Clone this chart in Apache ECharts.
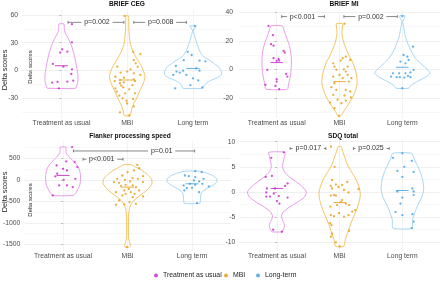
<!DOCTYPE html>
<html>
<head>
<meta charset="utf-8">
<script src="https://cdn.jsdelivr.net/npm/echarts@6/dist/echarts.min.js"></script>
<style>
  html, body { margin: 0; padding: 0; background: #fff; }
  #chart { width: 440px; height: 281px; }
</style>
</head>
<body>
<div id="chart"></div>
<script>
// categories and labels
const groups = ['Treatment as usual', 'MBI', 'Long term'];
const legendNames = ['Treatment as usual', 'MBI', 'Long-term'];
const panelTitles = ['BRIEF CEG', 'BRIEF MI', 'Flanker processing speed', 'SDQ total'];
const yTicks = [[-30, 0, 30, 60], [-20, 0, 20, 40], [-1500, -1000, -500, 0, 500], [-10, -5, 0, 5, 10]];
const yMinor = [[-45, -15, 15, 45], [-30, -10, 10, 30], [-1250, -750, -250, 250, 750], [-7.5, -2.5, 2.5, 7.5]];

// BRIEF CEG delta scores (points) and horizontal jitter
const cegTau = [50, 30.4, 22.8, 20.2, 19.2, 6.9, 4, 1.1, -4, -13.4, -12.6, -12.3, -11.2, -19.5];
const cegTauJit = [0.16, 0.16, 0.01, 0.09, -0.02, -0.13, 0.03, 0.16, 0.15, -0.14, -0.06, 0.09, 0.18, -0.04];
const cegMbi = [59, 20, 17.7, 11, 7.6, 4, 4, 1, -1.4, -2.5, -3.3, -7, -5, -8, -10.5, -9.8, -11.7, -13, -14, -11.6,
  -16.7, -16, -18.4, -19.5, -20.6, -23.2, -25, -25, -27.5, -30.4, -33, -31, -36, -39, -45.6, -49];
const cegMbiJit = [-0.04, 0.09, 0.2, 0.1, 0.13, 0.16, -0.15, 0.05, 0, -0.1, 0.1, -0.18, 0.2, -0.05, -0.11, 0.1, -0.19, -0.05, -0.11, 0.12,
  -0.09, 0.08, -0.06, -0.18, 0.03, -0.16, -0.03, 0.12, -0.12, -0.07, -0.01, 0.09, 0, 0.1, -0.11, 0.03];
const cegLt = [48, 20, 16.6, 11, 10.5, 9.8, 4.7, 2, -0.4, -1.4, -2.5, -0.4, -5, -5, -8.7, -11, -16, -19.5, -18.4];
const cegLtJit = [0.03, -0.08, -0.02, -0.14, 0.1, 0.19, -0.26, 0.05, -0.15, -0.25, -0.2, 0.1, -0.3, -0.1, 0, 0.08, -0.04, -0.27, 0.14];

// BRIEF MI
const miTau = [30.5, 24, 17.7, 16.7, 13, 11.9, 7.9, 7.4, 6.3, 6, -0.2, -3, -4.9, -6.7, -10.7, -8.4, -11.4, -13.7];
const miTauJit = [-0.13, -0.06, -0.09, -0.05, 0.11, 0.13, -0.05, 0.03, 0.04, 0, -0.15, 0.15, 0.17, 0, -0.18, 0, -0.02, 0.04];
const miMbi = [32, 9, 7.9, 6.3, 6.7, 4.4, 2, 2, 0.2, -0.2, -1.4, -3.7, -3.7, -4.9, -6, -6, -8.4, -9.5, -12.3, -14.2,
  -14.2, -15.3, -17.7, -18.1, -19.5, -21, -21.6, -23, -23.5, -27, -32.3];
const miMbiJit = [0.08, 0.1, 0.05, 0.02, 0.17, -0.1, -0.08, 0.13, 0.07, -0.05, 0.1, 0, 0.13, -0.1, 0.05, 0.19, 0.15, -0.08, -0.13, -0.05,
  0.1, 0.17, -0.1, 0.08, 0.18, -0.03, 0.1, -0.15, 0.03, -0.08, -0.01];
const miLt = [37.3, 16, 10.2, 9, 6.7, 5.6, 4.4, -2.6, -2.6, -2.6, -2, -0.2, -4.4, -5.3, -5.6, -4.9, -5.3, -5.3, -13];
const miLtJit = [0, 0.17, 0.02, 0.08, 0.1, -0.03, 0.05, -0.15, -0.05, 0.05, 0.13, 0.18, 0.09, -0.04, 0.03, -0.18, -0.09, 0.13, 0];

// Flanker processing speed
const flkTau = [760, 426, 411, 333, 295, 256, 217, 140, 78, 0, 23, -132, -132, -170, -364];
const flkTauJit = [0.14, 0.05, 0.18, -0.1, 0.22, 0, 0.06, -0.09, -0.12, 0.01, 0.19, -0.06, 0.06, 0.15, -0.16];
const flkMbi = [345, 270, 217, 178, 100, 85, 39, 23, 0, 23, -39, -54, -70, -54, -116, -132, -147, -170, -209, -248,
  -248, -287, -287, -326, -326, -364, -388, -403, -481, -519, -558, -574, -581, -1566];
const flkMbiJit = [0.15, 0.18, 0.1, 0, -0.08, 0.24, 0.08, -0.16, -0.04, 0.16, 0.04, -0.21, -0.13, 0.24, -0.03, 0.08, -0.1, 0.13, 0.02, -0.05,
  0.18, 0.05, -0.18, -0.03, 0.11, -0.08, 0.24, 0.08, -0.13, 0.03, 0.13, -0.05, -0.18, -0.01];
const flkLt = [200, 178, 100, 85, 62, 23, -15, -39, -93, -93, -132, -116, -155, -194, -186, -248, -287, -545];
const flkLtJit = [0.05, 0.15, -0.11, -0.05, 0.05, 0.18, 0.03, 0.11, -0.03, 0.16, -0.13, 0.05, 0.26, -0.08, 0, -0.12, 0.11, 0.08];

// SDQ total
const sdqTau = [7.9, 6.8, 3, 3.2, 1.7, 1.2, 0.7, 0.7, -0.1, -0.3, -0.9, -0.8, -0.9, -1.1, -1.8, -2.3, -7.5, -7.9];
const sdqTauJit = [0.11, -0.09, -0.18, -0.08, 0.17, 0.13, -0.16, -0.03, -0.17, -0.05, -0.11, 0.03, -0.17, 0.17, 0, 0.04, -0.06, 0.08];
const sdqMbi = [9, 5, 2.4, 2, 1.5, 1.4, 1.2, 1, 0.7, 0.6, 0.4, -0.1, -0.6, -0.7, -0.7, -1.6, -2, -2.3, -2.6, -2.6,
  -2.9, -3.6, -3.9, -4.2, -4.6, -4.6, -4.8, -4.9, -6.2, -6.6, -7.7, -8.3, -8.9, -10, -10.8];
const sdqMbiJit = [-0.14, -0.08, -0.12, 0.12, -0.06, 0.04, -0.14, -0.02, -0.12, 0.3, 0.07, 0.14, -0.09, -0.14, -0.06, 0.04, 0.02, 0.1, -0.04, 0.15,
  -0.15, 0.25, 0.2, -0.01, 0.14, -0.14, -0.09, 0.07, -0.15, -0.13, 0.15, -0.12, -0.14, -0.06, 0];
const sdqLt = [6.8, 7.7, 6.2, 4.2, 5, 4, 3, 0.7, 0.1, 0.1, -0.6, -1.1, -2.3, -4, -4.6, -4.4, -5.9, -7.2];
const sdqLtJit = [-0.15, 0, 0.15, -0.08, 0.03, 0.18, 0, 0.16, 0.18, -0.08, 0.18, 0, -0.03, -0.11, 0, 0.16, 0.18, 0.15];

// medians per group
const cegMedians = [5, -10.5, 2];
const miMedians = [4.9, -8.4, 1.6];
const flkMedians = [100, -170, -93];
const sdqMedians = [0.7, -2.1, 0.3];

// violin outlines: [score, half width as share of category spacing]
const cegShapeTau = [[50.2, 0.038], [45, 0.042], [41, 0.055], [37, 0.085], [32, 0.12], [26, 0.155], [18, 0.19], [10, 0.215],
  [2, 0.235], [-5, 0.25], [-11, 0.25], [-15, 0.24], [-18, 0.225], [-19.5, 0.215]];
const cegShapeMbi = [[59, 0.02], [55, 0.022], [45, 0.025], [35, 0.035], [28, 0.05], [22, 0.08], [16, 0.12], [10, 0.17], [4, 0.22],
  [-2, 0.255], [-7, 0.27], [-12, 0.255], [-18, 0.22], [-24, 0.18], [-30, 0.145], [-36, 0.1], [-42, 0.07], [-46, 0.055], [-49, 0.045]];
const cegShapeLt = [[48, 0.05], [46, 0.03], [43.5, 0.006], [40, 0.015], [35, 0.035], [30, 0.055], [25, 0.08], [20, 0.11], [15, 0.16],
  [11, 0.25], [7, 0.33], [3, 0.4], [-1, 0.43], [-5, 0.43], [-8, 0.37], [-11, 0.27], [-14, 0.2], [-17, 0.165], [-19.5, 0.155]];
const miShapeTau = [[30.5, 0.09], [27, 0.12], [22, 0.16], [17, 0.2], [12, 0.225], [6, 0.235], [0, 0.23], [-5, 0.215], [-10, 0.19], [-13.7, 0.17]];
const miShapeMbi = [[32, 0.05], [29, 0.045], [25, 0.04], [20, 0.06], [15, 0.1], [10, 0.15], [5, 0.21], [0, 0.25], [-5, 0.275],
  [-10, 0.28], [-15, 0.25], [-20, 0.2], [-25, 0.13], [-29, 0.07], [-32.3, 0.02]];
const miShapeLt = [[37.5, 0.043], [35.5, 0.03], [33.5, 0.006], [30, 0.02], [27.7, 0.03], [23, 0.05], [18, 0.09], [13, 0.14], [8, 0.21],
  [4, 0.3], [0, 0.4], [-2.5, 0.44], [-5, 0.38], [-8, 0.25], [-11, 0.14], [-13, 0.1]];
const flkShapeTau = [[760, 0.045], [700, 0.045], [620, 0.05], [540, 0.09], [450, 0.15], [350, 0.21], [250, 0.25], [120, 0.27],
  [0, 0.27], [-120, 0.26], [-220, 0.23], [-300, 0.2], [-364, 0.16]];
const flkShapeMbi = [[350, 0.06], [300, 0.12], [220, 0.22], [120, 0.31], [20, 0.37], [-80, 0.38], [-180, 0.34], [-280, 0.27],
  [-380, 0.18], [-480, 0.1], [-580, 0.05], [-700, 0.025], [-850, 0.016], [-1100, 0.014], [-1350, 0.016], [-1450, 0.03],
  [-1520, 0.045], [-1566, 0.03]];
const flkShapeLt = [[200, 0.12], [160, 0.22], [100, 0.32], [30, 0.38], [-40, 0.39], [-110, 0.34], [-180, 0.26], [-250, 0.18],
  [-330, 0.14], [-450, 0.13], [-545, 0.12]];
const sdqShapeTau = [[7.9, 0.13], [7, 0.12], [6, 0.1], [5, 0.09], [4, 0.12], [3, 0.2], [2, 0.31], [1, 0.41], [0, 0.47], [-1, 0.44],
  [-2, 0.33], [-3, 0.2], [-4, 0.1], [-4.8, 0.07], [-5.6, 0.09], [-6.5, 0.12], [-7.3, 0.11], [-7.9, 0.08]];
const sdqShapeMbi = [[9, 0.025], [8, 0.05], [7, 0.08], [5.5, 0.12], [4, 0.19], [2.5, 0.26], [1, 0.31], [-0.5, 0.33], [-2, 0.31],
  [-3.5, 0.27], [-5, 0.22], [-6.5, 0.17], [-8, 0.13], [-9.5, 0.09], [-10.8, 0.065]];
const sdqShapeLt = [[7.7, 0.15], [6.5, 0.19], [5, 0.25], [3.5, 0.3], [2, 0.33], [0.5, 0.34], [-1, 0.31], [-2.5, 0.25], [-4, 0.2],
  [-5.5, 0.16], [-7.2, 0.15]];

// significance brackets: [from, to, score, label x], labels
const cegBrackets = [[0.10, 0.95, 52, 0.54], [1.10, 1.90, 52, 1.51]];
const cegBracketLabels = ['p=0.002', 'p=0.008'];
const miBrackets = [[0.08, 0.76, 37, 0.41], [1.07, 1.92, 37, 1.5]];
const miBracketLabels = ['p<0.001', 'p=0.002'];
const flkBrackets = [[0.16, 2.04, 670, 1.53], [0.31, 0.93, 477, 0.6]];
const flkBracketLabels = ['p=0.01', 'p<0.001'];
const sdqBrackets = [[0.21, 0.78, 8.65, 0.5], [1.22, 1.79, 8.65, 1.5]];
const sdqBracketLabels = ['p=0.017', 'p=0.025'];

const FONT = '"Liberation Sans", Arial, sans-serif';
const pointColors = ['#CC1FCC', '#E69A0A', '#3B9FE3'];
const outlineColors = ['#E383E3', '#F0B43C', '#90CBF3'];

const panels = [
  { grid: { left: 22, top: 10, width: 210.4, height: 108 }, min: -51.7, max: 65.4, margin: 4,
    points: [[cegTau, cegTauJit], [cegMbi, cegMbiJit], [cegLt, cegLtJit]], shapes: [cegShapeTau, cegShapeMbi, cegShapeLt],
    medians: cegMedians, brackets: cegBrackets, bracketLabels: cegBracketLabels },
  { grid: { left: 239, top: 10, width: 209.3, height: 108 }, min: -33.8, max: 41.6, margin: 6,
    points: [[miTau, miTauJit], [miMbi, miMbiJit], [miLt, miLtJit]], shapes: [miShapeTau, miShapeMbi, miShapeLt],
    medians: miMedians, brackets: miBrackets, bracketLabels: miBracketLabels },
  { grid: { left: 24.3, top: 141, width: 206.4, height: 110 }, min: -1656, max: 902, margin: 4,
    points: [[flkTau, flkTauJit], [flkMbi, flkMbiJit], [flkLt, flkLtJit]], shapes: [flkShapeTau, flkShapeMbi, flkShapeLt],
    medians: flkMedians, brackets: flkBrackets, bracketLabels: flkBracketLabels },
  { grid: { left: 239.3, top: 139, width: 206.4, height: 112 }, min: -11.73, max: 10.54, margin: 4,
    points: [[sdqTau, sdqTauJit], [sdqMbi, sdqMbiJit], [sdqLt, sdqLtJit]], shapes: [sdqShapeTau, sdqShapeMbi, sdqShapeLt],
    medians: sdqMedians, brackets: sdqBrackets, bracketLabels: sdqBracketLabels }
];

function violinRenderer(profile, color, medColor) {
  return function (params, api) {
    const g = api.value(0);
    const band = api.size([1, 0])[0];
    const right = [];
    const left = [];
    profile.forEach(([v, w]) => {
      const p = api.coord([g, v]);
      right.push([p[0] + w * band, p[1]]);
      left.unshift([p[0] - w * band, p[1]]);
    });
    const m = api.coord([g, api.value(1)]);
    return {
      type: 'group',
      children: [
        { type: 'polygon', shape: { points: right.concat(left), smooth: 0.2 },
          style: { fill: 'none', stroke: color, lineWidth: 0.8 } },
        { type: 'line', shape: { x1: m[0] - 0.1 * band, y1: m[1], x2: m[0] + 0.1 * band, y2: m[1] },
          style: { stroke: medColor, lineWidth: 0.8 } }
      ]
    };
  };
}

function bracketRenderer(labels) {
  return function (params, api) {
    const a = api.coord([api.value(0), api.value(2)]);
    const b = api.coord([api.value(1), api.value(2)]);
    const t = api.coord([api.value(3), api.value(2)]);
    const label = labels[params.dataIndex];
    const half = label.length * 0.53 * 7 / 2 + 2.5;
    const y = a[1];
    const st = { stroke: '#555', lineWidth: 0.7 };
    return {
      type: 'group',
      children: [
        { type: 'line', shape: { x1: a[0], y1: y, x2: t[0] - half, y2: y }, style: st },
        { type: 'line', shape: { x1: t[0] + half, y1: y, x2: b[0], y2: y }, style: st },
        { type: 'line', shape: { x1: a[0], y1: y - 1.5, x2: a[0], y2: y + 1.5 }, style: st },
        { type: 'line', shape: { x1: b[0], y1: y - 1.5, x2: b[0], y2: y + 1.5 }, style: st },
        { type: 'text', x: t[0], y: y,
          style: { text: label, fontSize: 7, fontFamily: FONT, fill: '#333', align: 'center', verticalAlign: 'middle' } }
      ]
    };
  };
}

const grids = [], xAxes = [], yAxes = [], series = [], titles = [];
const titlePos = [[127, 1], [344, 1], [130, 133], [343, 132.5]];

panels.forEach((pn, p) => {
  grids.push(pn.grid);
  xAxes.push({
    gridIndex: p, type: 'value', min: -0.6, max: 2.6,
    axisLine: { show: false },
    axisTick: { show: false, customValues: [0, 1, 2] },
    axisLabel: { customValues: [0, 1, 2], formatter: v => groups[Math.round(v)], fontSize: 6.8, color: '#4d4d4d', margin: 2, fontFamily: FONT },
    splitLine: { show: true, lineStyle: { color: '#ebebeb', width: 0.6 } }
  });
  yAxes.push({
    gridIndex: p, type: 'value', position: 'left', min: pn.min, max: pn.max,
    axisLine: { show: false },
    axisTick: { show: true, length: 2, customValues: yTicks[p], lineStyle: { color: '#999', width: 0.6 } },
    axisLabel: { customValues: yTicks[p], formatter: v => String(v), fontSize: 6.8, color: '#4d4d4d', margin: pn.margin, fontFamily: FONT },
    splitLine: { show: true, lineStyle: { color: '#e6e6e6', width: 0.6 } }
  });
  yAxes.push({
    gridIndex: p, type: 'value', position: 'left', min: pn.min, max: pn.max,
    axisLine: { show: false },
    axisTick: { show: false, customValues: yMinor[p] },
    axisLabel: { show: false },
    splitLine: { show: true, lineStyle: { color: '#f3f3f3', width: 0.6 } }
  });
  titles.push({
    text: panelTitles[p], left: titlePos[p][0], top: titlePos[p][1], textAlign: 'center', padding: 0,
    textStyle: { fontSize: 6.6, fontWeight: 'bold', color: '#111', fontFamily: FONT }
  });

  for (let g = 0; g < 3; g++) {
    series.push({
      type: 'custom', xAxisIndex: p, yAxisIndex: 2 * p, silent: true, z: 2,
      data: [[g, pn.medians[g]]],
      renderItem: violinRenderer(pn.shapes[g], outlineColors[g], pointColors[g])
    });
  }
  for (let g = 0; g < 3; g++) {
    const [vals, jit] = pn.points[g];
    series.push({
      type: 'scatter', name: legendNames[g], xAxisIndex: p, yAxisIndex: 2 * p, silent: true, z: 3,
      symbol: 'circle', symbolSize: 2.3,
      itemStyle: { color: pointColors[g] },
      data: vals.map((v, i) => [g + jit[i], v])
    });
  }
  series.push({
    type: 'custom', xAxisIndex: p, yAxisIndex: 2 * p, silent: true, z: 4,
    data: pn.brackets,
    renderItem: bracketRenderer(pn.bracketLabels)
  });
});

const legendLeft = [154, 224, 256];
const legends = legendNames.map((n, i) => ({
  data: [n], left: legendLeft[i], top: 272, itemWidth: 4, itemHeight: 4, icon: 'circle', padding: 0,
  textStyle: { fontSize: 6.9, color: '#222', fontFamily: FONT }, selectedMode: false
}));

const yName = (x, y, size) => ({
  type: 'text', x: x, y: y, rotation: Math.PI / 2,
  style: { text: 'Delta scores', fontSize: size, fill: '#222', fontFamily: FONT, align: 'center', verticalAlign: 'middle' }
});

const chart = echarts.init(document.getElementById('chart'), null, { renderer: 'canvas' });
chart.setOption({
  backgroundColor: '#fff',
  animation: false,
  title: titles,
  legend: legends,
  grid: grids,
  xAxis: xAxes,
  yAxis: yAxes,
  series: series,
  graphic: [yName(5, 70, 7.3), yName(30, 67, 6), yName(5, 192, 7.3), yName(30.7, 200, 6)]
});
</script>
</body>
</html>
